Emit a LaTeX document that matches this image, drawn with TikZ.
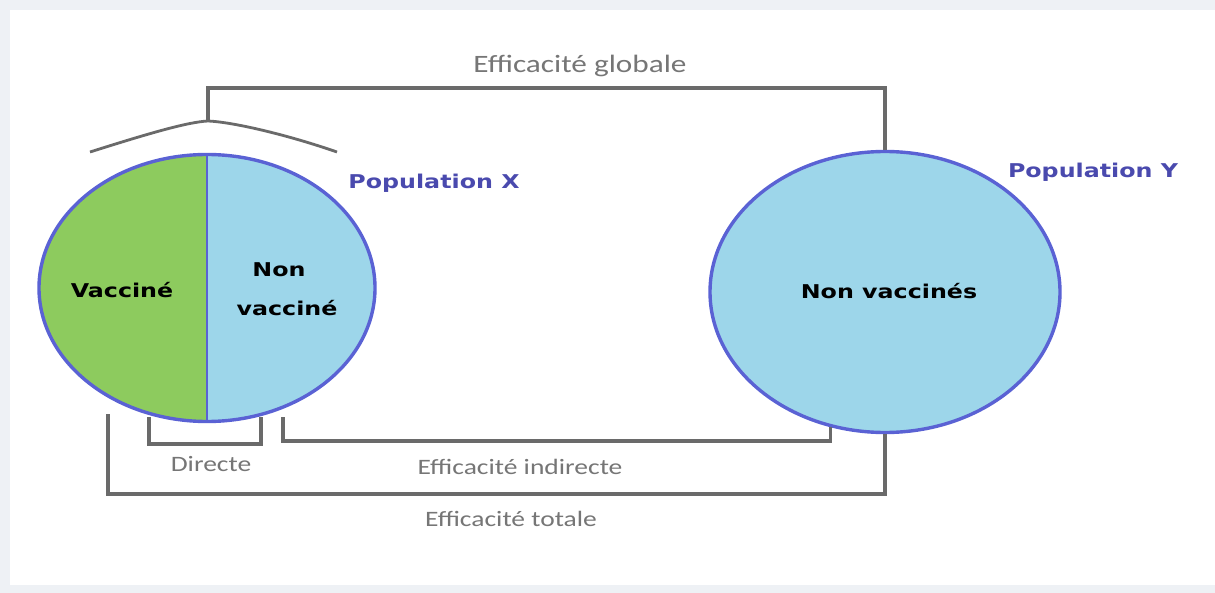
\documentclass[tikz,border=0pt]{standalone}
\usepackage{fontspec}
\setmainfont{DejaVu Sans}
\newfontfamily\lblfont{Carlito}
\usetikzlibrary{shapes.geometric}
\definecolor{bgframe}{HTML}{EEF1F5}
\definecolor{vgreen}{HTML}{8DCB5E}
\definecolor{vblue}{HTML}{9DD6EA}
\definecolor{popline}{HTML}{5A62D4}
\definecolor{poptext}{HTML}{4A4AAE}
\definecolor{brk}{HTML}{6A6A6A}
\definecolor{brktext}{HTML}{767676}
\newcommand{\sx}[1]{\scalebox{1.25}[1]{#1}}
\tikzset{
  pop/.style={ellipse, draw=popline, line width=3.4pt, inner sep=0pt},
  bracket/.style={draw=brk, line width=3.4pt},
  glabel/.style={text=brktext, font=\lblfont\fontsize{22}{26}\selectfont, inner sep=0pt},
  inlabel/.style={text=black, font=\bfseries\fontsize{19}{23}\selectfont, inner sep=0pt},
  plabel/.style={text=poptext, font=\bfseries\fontsize{19}{23}\selectfont, inner sep=0pt}
}
\begin{document}
\begin{tikzpicture}[x=1pt,y=-1pt]
\fill[bgframe] (0,0) rectangle (1215,593);
\fill[white] (10,10) rectangle (1215,585);
\useasboundingbox (0,0) rectangle (1215,593);

% populations
\node[pop, minimum width=336pt, minimum height=267pt,
  path picture={
    \fill[vgreen] (path picture bounding box.north west) rectangle (path picture bounding box.south);
    \fill[vblue] (path picture bounding box.north) rectangle (path picture bounding box.south east);
    \draw[popline, line width=2.4pt] (path picture bounding box.north) -- (path picture bounding box.south);
  }] (popX) at (207,288) {};
\node[pop, fill=vblue, minimum width=350pt, minimum height=281pt] (popY) at (885,292) {};

\node[inlabel] (vac) at (122,290) {\sx{Vaccin\'e}};
\node[inlabel] (non) at (279,270) {\sx{Non}};
\node[inlabel] (nvac) at (287,308) {\sx{vaccin\'e}};
\node[inlabel] (nvy) at (889,291) {\sx{Non vaccin\'es}};

\node[plabel] (px) at (434,183) {\sx{Population X}};
\node[plabel] (py) at (1093,172) {\sx{Population Y}};

% global bracket
\coordinate (capL) at (90,152);
\coordinate (capT) at (208,121);
\coordinate (capR) at (337,152);
\coordinate (gtop) at (0,88);
\draw[bracket, line width=2.8pt] (capL) .. controls (150,133) and (188,122) .. (capT) .. controls (232,122) and (285,134) .. (capR);
\draw[bracket] (capT) -- (capT |- gtop) -| (popY.north);
\node[glabel, font=\lblfont\fontsize{25}{30}\selectfont] (glob) at (580,66) {\sx{Efficacit\'e globale}};

% directe
\coordinate (dA) at (149,417);
\coordinate (dB) at (261,417);
\coordinate (dbase) at (0,444);
\draw[bracket] (dA) -- (dA |- dbase) -| (dB);
\node[glabel] (dir) at (211,464) {\sx{Directe}};

% indirecte
\coordinate (iA) at (283,417);
\coordinate (ibase) at (0,441);
\draw[bracket] (iA) -- (iA |- ibase) -| (popY.248);
\node[glabel] (ind) at (520,467) {\sx{Efficacit\'e indirecte}};

% totale
\coordinate (tA) at (108,414);
\coordinate (tbase) at (0,494);
\draw[bracket] (tA) -- (tA |- tbase) -| (popY.south);
\node[glabel] (tot) at (511,519) {\sx{Efficacit\'e totale}};
\end{tikzpicture}
\end{document}
